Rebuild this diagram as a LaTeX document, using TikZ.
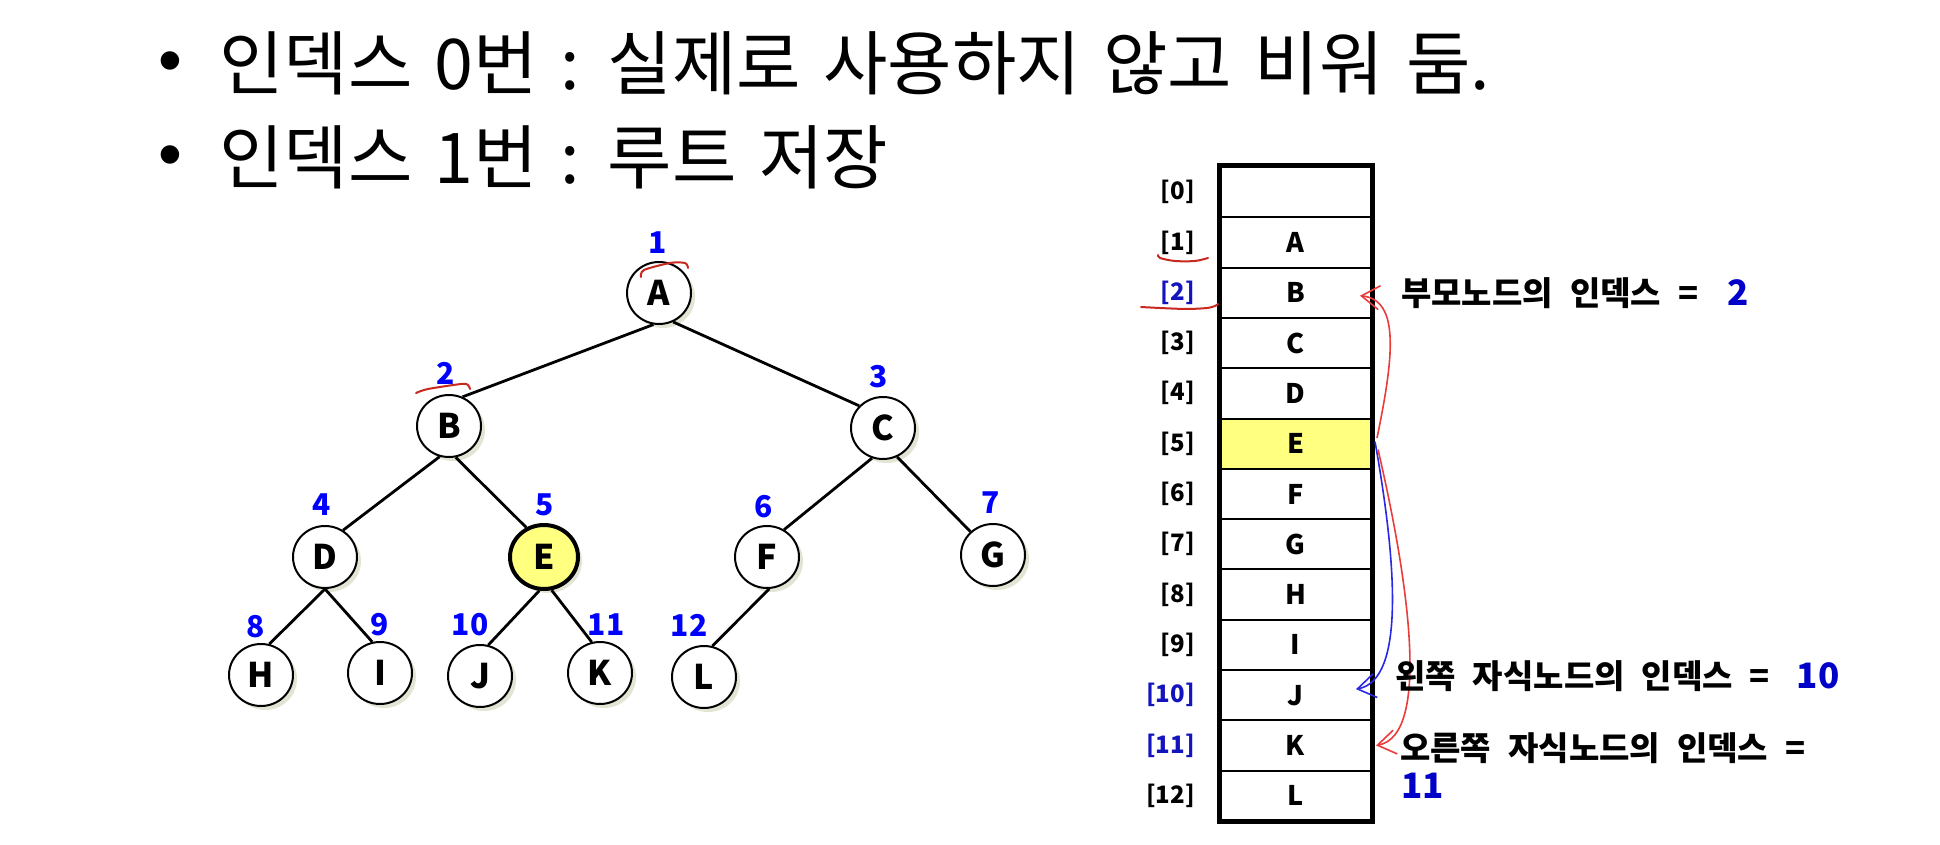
\documentclass[tikz,border=0pt]{standalone}
\usepackage{fontspec}
\setmainfont{Noto Sans CJK KR}
\newfontfamily\libsans{Liberation Sans}
\usetikzlibrary{shapes.geometric,arrows.meta}
\definecolor{lblue}{RGB}{0,0,255}
\definecolor{iblue}{RGB}{20,20,190}
\definecolor{nblue}{RGB}{0,0,200}
\definecolor{hy}{RGB}{255,255,128}
\definecolor{markred}{RGB}{200,40,30}
\definecolor{ared}{RGB}{235,60,60}
\definecolor{ablue}{RGB}{40,40,230}
\definecolor{shade}{RGB}{228,228,212}
\newcommand\myttlfont{\fontsize{70}{70}\selectfont\spaceskip 22.5pt\relax}
\newcommand\myrfont{\fontsize{33}{33}\selectfont\bfseries\spaceskip 17pt\relax}
\begin{document}
\begin{tikzpicture}[x=1pt,y=-1pt,
  tnode/.style={ellipse, draw, line width=2pt, fill=white, minimum width=64pt, minimum height=62pt, inner sep=0pt,
    font=\fontsize{34}{34}\selectfont\bfseries,
    preaction={fill=shade, transform canvas={shift={(4pt,-4pt)}}}},
  hnode/.style={tnode, fill=hy, line width=4pt, minimum width=68pt, minimum height=64pt},
  tlab/.style={text=lblue, inner sep=0pt, font=\fontsize{30}{30}\selectfont\bfseries},
  tedge/.style={line width=2.8pt},
  cell/.style={rectangle, draw, line width=2pt, minimum width=151pt, minimum height=50.3pt, inner sep=0pt,
    font=\fontsize{27}{27}\selectfont\bfseries},
  ilab/.style={inner sep=0pt, anchor=east, font=\fontsize{24}{24}\selectfont\bfseries},
  rtxt/.style={inner sep=0pt, anchor=base west, font=\myrfont},
  ttl/.style={anchor=base west, inner sep=0pt, font=\myttlfont},
  bul/.style={anchor=base, inner sep=0pt, font=\libsans\fontsize{68}{68}\selectfont},
  hand/.style={markred, line width=2pt, line cap=round},
  arr/.style={line width=1.6pt, -{Straight Barb[length=18pt,width=24pt]}}
]
\useasboundingbox (0,0) rectangle (1940,845);
\fill[white] (0,0) rectangle (1940,845);

% title lines
\node[bul] (b1) at (170,84) {•};
\node[ttl] (title1) at (219,90) {인덱스 0번 : 실제로 사용하지 않고 비워 둠.};
\node[bul] (b2) at (170,178) {•};
\node[ttl] (title2) at (219,184) {인덱스 1번 : 루트 저장};

% tree nodes
\node[tnode] (A) at (659,293) {A};
\node[tnode] (B) at (449,426) {B};
\node[tnode] (C) at (883,428) {C};
\node[tnode] (D) at (325,557) {D};
\node[hnode] (E) at (544,557) {E};
\node[tnode] (F) at (767,557) {F};
\node[tnode] (G) at (993,555) {G};
\node[tnode] (H) at (261,675) {H};
\node[tnode] (I) at (380,673) {I};
\node[tnode] (J) at (480,676) {J};
\node[tnode] (K) at (600,673) {K};
\node[tnode] (L) at (704,677) {L};

% tree edges
\draw[tedge] (A.-100) -- (B.65);
\draw[tedge] (A.-64) -- (C.137);
\draw[tedge] (B.-107) -- (D.56);
\draw[tedge] (B.-78) -- (E.121);
\draw[tedge] (C.-110) -- (F.58);
\draw[tedge] (C.-64) -- (G.134);
\draw[tedge] (D.-90) -- (H.75);
\draw[tedge] (D.-90) -- (I.104);
\draw[tedge] (E.-98) -- (J.75);
\draw[tedge] (E.-77) -- (K.105);
\draw[tedge] (F.-86) -- (L.75);

% tree index labels
\node[tlab] (n1) at (658,243) {1};
\node[tlab] (n2) at (446,373) {2};
\node[tlab] (n3) at (879,377) {3};
\node[tlab] (n4) at (322,505) {4};
\node[tlab] (n5) at (545,505) {5};
\node[tlab] (n6) at (764,507) {6};
\node[tlab] (n7) at (991,503) {7};
\node[tlab] (n8) at (256,627) {8};
\node[tlab] (n9) at (380,625) {9};
\node[tlab] (n10) at (470,625) {10};
\node[tlab] (n11) at (606,625) {11};
\node[tlab] (n12) at (689,625) {12};

% hand marks on tree
\draw[hand] plot[smooth] coordinates {(641,277) (644,270) (670,263) (685,263) (688,268)};
\draw[hand] plot[smooth] coordinates {(416,393) (428,389) (461,384) (468,385) (470,389)};

% array cells
\foreach \i/\t/\f in {0//white,1/A/white,2/B/white,3/C/white,4/D/white,5/E/hy,6/F/white,7/G/white,8/H/white,9/I/white,10/J/white,11/K/white,12/L/white}
  \node[cell, fill=\f] (c\i) at (1295.5,{167+50.3*(\i+0.5)}) {\t};
\draw[line width=5pt] (c0.north west) rectangle (c12.south east);

% index labels
\foreach \i/\c in {0/black,1/black,2/iblue,3/black,4/black,5/black,6/black,7/black,8/black,9/black,10/iblue,11/iblue,12/black}
  \node[ilab, text=\c] (i\i) at (1195,{167+50.3*(\i+0.5)}) {[\i]};

% hand marks on array labels
\draw[hand] plot[smooth] coordinates {(1208,258) (1195,261) (1175,261) (1160,258) (1158,255)};
\draw[hand] plot[smooth] coordinates {(1141,307) (1160,308) (1187,309) (1207,308) (1215,306) (1218,304)};

% arrows
\draw[arr, ared] ([xshift=5pt,yshift=5.6pt]c5.east) .. controls +(16,-78) and +(41,4) .. ([xshift=-12pt,yshift=-3pt]c2.east);
\draw[arr, ablue] ([xshift=3pt,yshift=2pt]c5.east) .. controls +(21,118) and +(50,-9) .. ([xshift=-16pt,yshift=6pt]c10.east);
\draw[arr, ared] ([xshift=6pt,yshift=-6pt]c5.east) .. controls +(28,120) and +(57,-10) .. ([xshift=4pt]c11.east);

% right texts
\node[rtxt] (t1) at (1401,305) {부모노드의 인덱스 =\hspace{12pt} \textcolor{nblue}{\fontsize{35}{35}\selectfont 2}};
\node[rtxt] (t2) at (1395,688) {왼쪽 자식노드의 인덱스 =\hspace{10pt} \textcolor{nblue}{\fontsize{35}{35}\selectfont 10}};
\node[rtxt] (t3) at (1400,760) {오른쪽 자식노드의 인덱스 =};
\node[rtxt, text=nblue, font=\fontsize{35}{35}\selectfont\bfseries] (t3b) at (1401,798) {11};
\end{tikzpicture}
\end{document}
